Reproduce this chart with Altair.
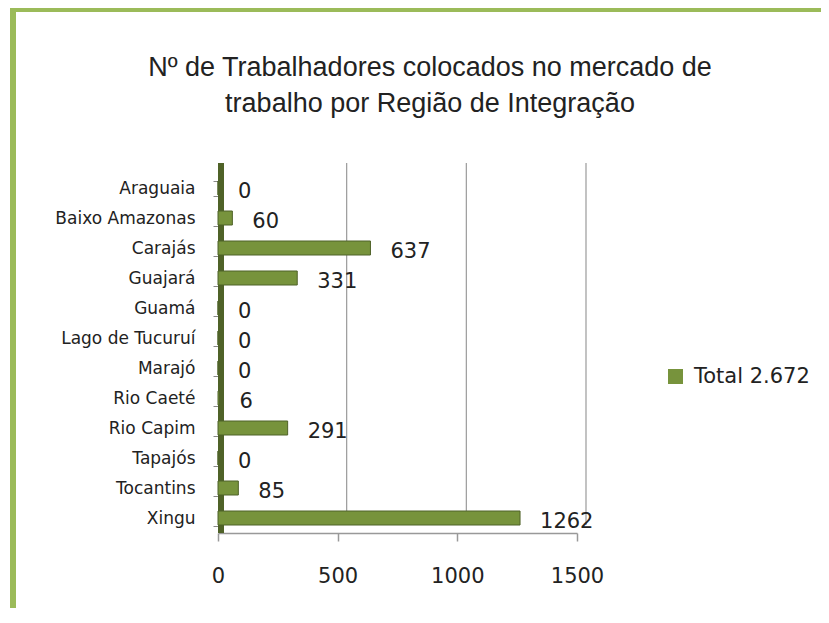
import altair as alt
import pandas as pd

categories = ["Araguaia", "Baixo Amazonas", "Carajás", "Guajará", "Guamá", "Lago de Tucuruí",
              "Marajó", "Rio Caeté", "Rio Capim", "Tapajós", "Tocantins", "Xingu"]
values = [0, 60, 637, 331, 0, 0, 0, 6, 291, 0, 85, 1262]
series_name = "Total 2.672"
x_ticks = [0, 500, 1000, 1500]
grid_ticks = [500, 1000, 1500]
title_lines = ["Nº de Trabalhadores  colocados no mercado de", "trabalho por Região de Integração"]

df = pd.DataFrame({"Região": categories, "Valor": values, "Série": [series_name] * len(categories)})
grid_df = pd.DataFrame({"g": grid_ticks})
one = pd.DataFrame({"k": [0]})

LABEL_FONT = "DejaVu Sans, sans-serif"
TITLE_FONT = "Liberation Sans, Arial, sans-serif"
W, H = 359, 360

xscale = alt.Scale(domain=[0, 1500], nice=False)
yenc = alt.Y("Região:N", sort=categories, title=None,
             scale=alt.Scale(paddingInner=0.5, paddingOuter=0.25),
             axis=alt.Axis(domain=False, ticks=True, tickSize=5, tickColor="#888",
                           labelFont=LABEL_FONT, labelFontSize=17, labelColor="#222",
                           labelPadding=18, grid=False, tickBand="extent"))

grid = alt.Chart(grid_df).mark_rule(color="#9a9a9a", strokeWidth=1.2, xOffset=9).encode(
    x=alt.X("g:Q", scale=xscale),
    y=alt.value(-10), y2=alt.value(H - 8)
)

wall = alt.Chart(one).mark_rule(color="#4f6228", strokeWidth=6, xOffset=3).encode(
    x=alt.value(0), y=alt.value(-10), y2=alt.value(H)
)

bars = alt.Chart(df).mark_bar(color="#77933c", stroke="#4f6228", strokeWidth=1, height=14).encode(
    x=alt.X("Valor:Q", scale=xscale, title=None,
            axis=alt.Axis(values=x_ticks, format="d", grid=False, domainColor="#999", domainWidth=1.5,
                          tickColor="#999", tickSize=8, tickWidth=1.5,
                          labelFont=LABEL_FONT, labelFontSize=21, labelColor="#222",
                          labelPadding=24, labelFlush=False)),
    y=yenc,
    color=alt.Color("Série:N", scale=alt.Scale(range=["#77933c"]), title=None,
                    legend=alt.Legend(orient="none", legendX=447, legendY=193,
                                      symbolType="square", symbolSize=225,
                                      symbolStrokeWidth=0,
                                      labelFont=LABEL_FONT, labelFontSize=21,
                                      labelColor="#222", labelOffset=8))
)

labels = alt.Chart(df).mark_text(align="left", baseline="middle", dx=20, dy=4,
                                 font=LABEL_FONT, fontSize=21, color="#222").encode(
    x=alt.X("Valor:Q", scale=xscale),
    y=alt.Y("Região:N", sort=categories),
    text=alt.Text("Valor:Q")
)

title1 = alt.Chart(one).mark_text(align="center", baseline="alphabetic", font=TITLE_FONT,
                                  fontSize=27, fontWeight="normal", color="#222").encode(
    x=alt.value(212), y=alt.value(-97), text=alt.value(title_lines[0]))
title2 = alt.Chart(one).mark_text(align="center", baseline="alphabetic", font=TITLE_FONT,
                                  fontSize=27, fontWeight="normal", color="#222").encode(
    x=alt.value(212), y=alt.value(-61), text=alt.value(title_lines[1]))

frame_left = alt.Chart(one).mark_rule(color="#9bbb59", strokeWidth=6).encode(
    x=alt.value(-205), y=alt.value(-164), y2=alt.value(470)
)
frame_top = alt.Chart(one).mark_rule(color="#9bbb59", strokeWidth=6).encode(
    x=alt.value(-208), x2=alt.value(640), y=alt.value(-164)
)

chart = alt.layer(frame_left, frame_top, grid, wall, bars, labels, title1, title2).properties(
    width=W, height=H,
    autosize=alt.AutoSizeParams(type="none"),
    padding={"left": 210, "top": 165, "right": 244, "bottom": 75},
    view=alt.ViewBackground(stroke=None, strokeWidth=0),
).configure_view(stroke=None, strokeWidth=0).configure(background="white")

chart.save("out.html", embed_options={"renderer": "svg", "actions": False})
